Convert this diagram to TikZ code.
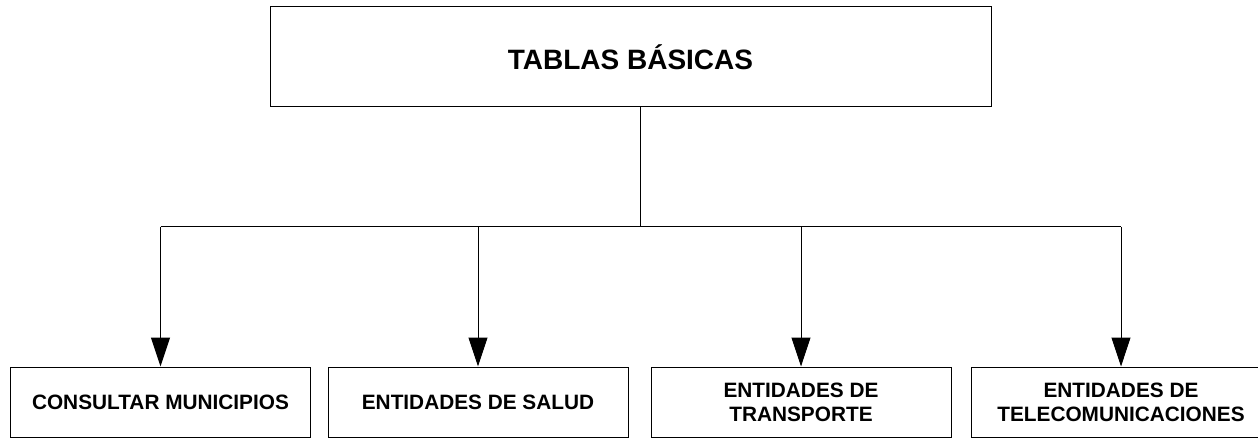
\documentclass[tikz,border=0pt]{standalone}
\usepackage{fontspec}
\setmainfont{Liberation Sans}
\usetikzlibrary{arrows.meta,positioning,calc}

\tikzset{
  caja/.style={draw, line width=1pt, inner sep=0pt, align=center,
    minimum width=300pt, minimum height=70pt,
    font=\fontsize{20.8}{24}\selectfont\bfseries},
  titulo/.style={draw, line width=1pt, inner sep=0pt,
    minimum width=721pt, minimum height=100pt,
    font=\fontsize{28}{34}\selectfont\bfseries},
  linea/.style={line width=1pt},
  flecha/.style={line width=1pt, -{Triangle[length=29pt,width=19pt]}}
}

\begin{document}
\begin{tikzpicture}[x=1pt,y=-1pt]
    \path[use as bounding box, clip] (0,0) rectangle (1258,438);
    % caja principal
    \node[titulo] (tablas) at (630.5,57) {TABLAS BÁSICAS};
    % cajas de abajo
    \node[caja] (municipios) at (160.5,402) {CONSULTAR MUNICIPIOS};
    \node[caja] (salud) at (478,402) {ENTIDADES DE SALUD};
    \node[caja] (transporte) at (801,402) {ENTIDADES DE\\TRANSPORTE};
    \node[caja] (telecom) at (1121,402) {ENTIDADES DE\\TELECOMUNICACIONES};
    % conectores
    \coordinate (bus) at (640,227);
    \draw[linea] (tablas.south -| bus) -- (bus);
    \draw[linea] (municipios.north |- bus) -- (telecom.north |- bus);
    \foreach \hijo in {municipios,salud,transporte,telecom}
      \draw[flecha] (\hijo.north |- bus) -- (\hijo.north);
\end{tikzpicture}
\end{document}
